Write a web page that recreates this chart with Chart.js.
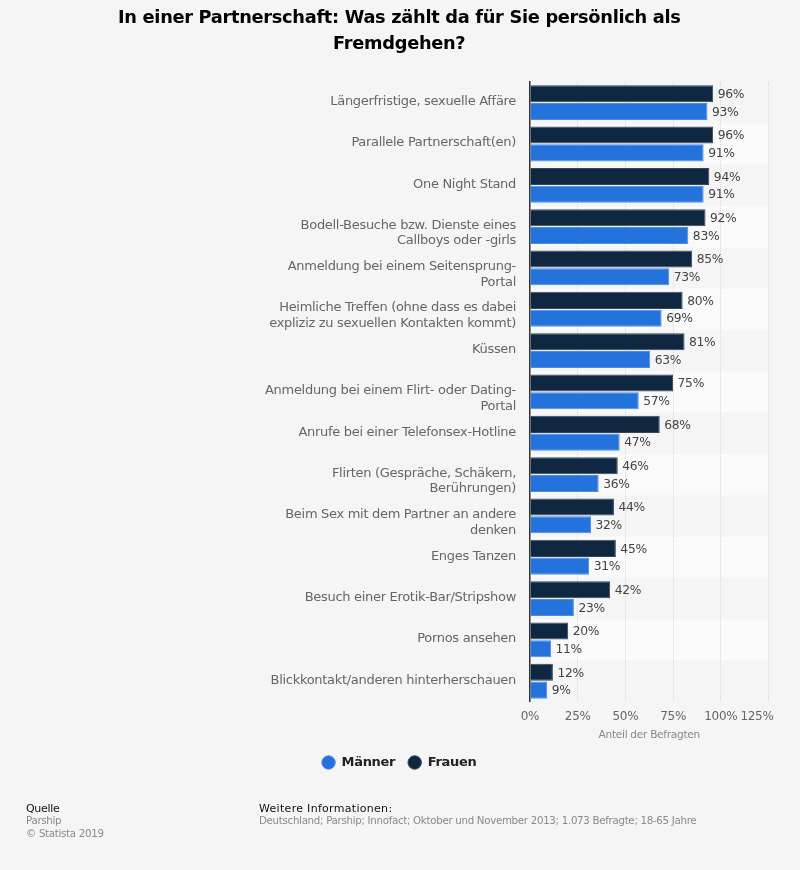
<!DOCTYPE html>
<html><head><meta charset="utf-8">
<style>
html,body{margin:0;padding:0;background:#f5f5f5;width:800px;height:870px;overflow:hidden;font-family:"DejaVu Sans",sans-serif}
#w{position:absolute;left:0;top:0;width:800px;height:870px}
.t{position:absolute;white-space:nowrap;font-size:11px;line-height:14px}
.g{color:#8a8a8a;font-size:10.25px;letter-spacing:-0.3px}
</style>
<script src="https://cdn.jsdelivr.net/npm/chart.js@4/dist/chart.umd.min.js"></script>
</head><body>
<div id="w"><canvas id="c" width="800" height="870"></canvas></div>
<div class="t" style="left:26px;top:802px;color:#111;letter-spacing:-0.3px">Quelle</div>
<div class="t g" style="left:26px;top:813px">Parship</div>
<div class="t g" style="left:26px;top:826px">© Statista 2019</div>
<div class="t" style="left:259px;top:802px;color:#111;letter-spacing:0.3px">Weitere Informationen:</div>
<div class="t g" style="left:259px;top:813px">Deutschland; Parship; Innofact; Oktober und November 2013; 1.073 Befragte; 18-65 Jahre</div>
<script>
const titleLines = ["In einer Partnerschaft: Was zählt da für Sie persönlich als", "Fremdgehen?"];
const categories = [
  "Längerfristige, sexuelle Affäre",
  "Parallele Partnerschaft(en)",
  "One Night Stand",
  ["Bodell-Besuche bzw. Dienste eines", "Callboys oder -girls"],
  ["Anmeldung bei einem Seitensprung-", "Portal"],
  ["Heimliche Treffen (ohne dass es dabei", "expliziz zu sexuellen Kontakten kommt)"],
  "Küssen",
  ["Anmeldung bei einem Flirt- oder Dating-", "Portal"],
  "Anrufe bei einer Telefonsex-Hotline",
  ["Flirten (Gespräche, Schäkern,", "Berührungen)"],
  ["Beim Sex mit dem Partner an andere", "denken"],
  "Enges Tanzen",
  "Besuch einer Erotik-Bar/Stripshow",
  "Pornos ansehen",
  "Blickkontakt/anderen hinterherschauen"
];
const frauen = [96,96,94,92,85,80,81,75,68,46,44,45,42,20,12];
const maenner = [93,91,91,83,73,69,63,57,47,36,32,31,23,11,9];
const xTicks = [0,25,50,75,100,125];
const axisTitle = "Anteil der Befragten";

const FONT = '"DejaVu Sans", sans-serif';
const bandPlugin = {
  id:'bands',
  beforeLayout(ch){ ch.ctx.letterSpacing='-0.3px'; },
  beforeDraw(ch){
    const {ctx,chartArea:a,scales:{x,y}} = ch;
    ctx.letterSpacing='-0.3px';
    ctx.save();
    ctx.fillStyle='#fafafa';
    const h=(a.bottom-a.top)/categories.length;
    categories.forEach((_,i)=>{ if(i%2===1) ctx.fillRect(a.left,a.top+i*h,a.right-a.left,h); });
    ctx.restore();
    const items=x.getLabelItems(a);
    if(items.length){const last=items[items.length-1]; last.options.translation=[last.options.translation[0]-11.5,last.options.translation[1]];}
    y.getLabelItems(a).forEach(it=>{
      const t=it.options.translation;
      const shift=Array.isArray(it.label)?6.5:-1;
      it.options.translation=[t[0],t[1]+shift];
    });
  }
};
const labelPlugin = {
  id:'vals',
  afterDatasetsDraw(ch){
    const {ctx}=ch;
    ctx.save();
    ctx.font='12.3px '+FONT; ctx.fillStyle='#444'; ctx.textBaseline='middle'; ctx.textAlign='left';
    ch.data.datasets.forEach((d,di)=>{
      ch.getDatasetMeta(di).data.forEach((el,i)=>{ ctx.fillText(d.data[i]+'%',el.x+4.5,el.y+1); });
    });
    ctx.restore();
  }
};
new Chart(document.getElementById('c'),{
  type:'bar',
  plugins:[bandPlugin,labelPlugin],
  data:{labels:categories,datasets:[
    {label:'Frauen',data:frauen,backgroundColor:'#0f2740',borderColor:'#33485c',borderWidth:1},
    {label:'Männer',data:maenner,backgroundColor:'#2473dc',borderColor:'#4a8ce6',borderWidth:1}
  ]},
  options:{
    indexAxis:'y',responsive:false,animation:false,devicePixelRatio:1,
    datasets:{bar:{categoryPercentage:0.86,barPercentage:0.96}},
    layout:{padding:{left:30,right:31.5,top:0,bottom:91}},
    plugins:{
      tooltip:{enabled:false},
      title:{display:true,text:titleLines,color:'#000',font:{family:FONT,size:17.8,weight:'bold',lineHeight:1.46},padding:{top:5,bottom:25}},
      legend:{position:'bottom',reverse:true,labels:{usePointStyle:true,pointStyle:'circle',boxWidth:13,boxHeight:9.5,padding:13,color:'#222',font:{family:FONT,size:13,weight:'bold'}}}
    },
    scales:{
      x:{min:0,max:125,afterBuildTicks(s){s.ticks=xTicks.map(v=>({value:v}));},
        afterFit(s){s.height=s.height-7;},
        grid:{color:'#d9d9d9',drawTicks:false,lineWidth:1},border:{display:false,dash:[1,1]},
        ticks:{color:'#666',font:{family:FONT,size:12},padding:8,maxRotation:0,autoSkip:false,callback:v=>v+'%'},
        title:{display:true,text:axisTitle,color:'#888',font:{family:FONT,size:10.6},padding:{top:4,bottom:1}}},
      y:{grid:{display:false,drawTicks:false},border:{display:true,color:'#333',width:1.5},
        afterFit(s){s.width=500;},
        ticks:{color:'#666',font:{family:FONT,size:13},padding:14,autoSkip:false,crossAlign:'near',align:'center'}}
    }
  }
});
</script>
</body></html>
